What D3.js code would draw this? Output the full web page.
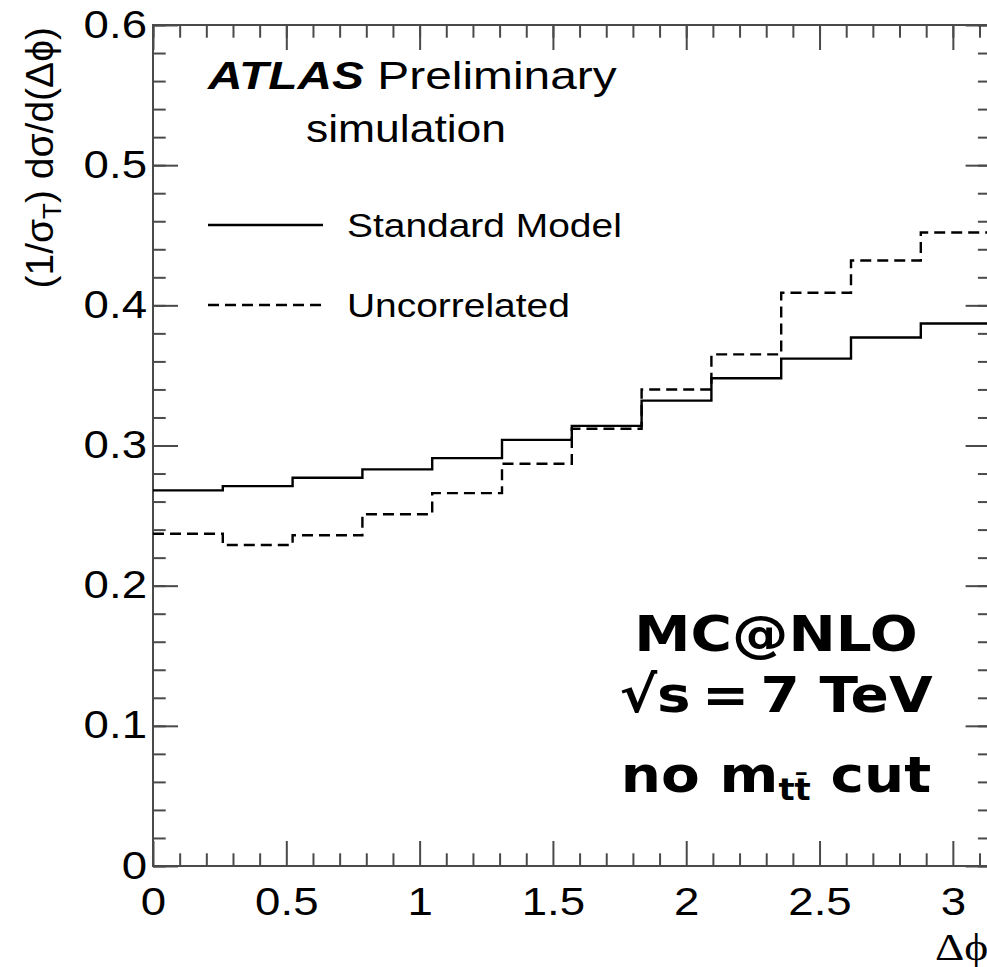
<!DOCTYPE html>
<html>
<head>
<meta charset="utf-8">
<script src="https://cdn.jsdelivr.net/npm/d3@7"></script>
<style>
  html, body { margin: 0; padding: 0; background: #fff; }
  svg { display: block; }
</style>
</head>
<body>
<svg id="chart" width="987" height="967"></svg>
<script>
// ---- data ----
const binCount = 12;                       // bins of width pi/12 over [0, pi]
const binEdges = d3.range(binCount + 1).map(k => k * Math.PI / binCount);
const standardModel = [0.268, 0.271, 0.277, 0.283, 0.291, 0.304, 0.314, 0.332, 0.348, 0.362, 0.377, 0.387];
const uncorrelated  = [0.237, 0.229, 0.236, 0.251, 0.266, 0.287, 0.312, 0.340, 0.365, 0.409, 0.432, 0.452];
const xMajorTicks = [0, 0.5, 1, 1.5, 2, 2.5, 3];
const xTickLabels = ["0", "0.5", "1", "1.5", "2", "2.5", "3"];
const xMinorTicks = d3.range(0, 32).map(i => i / 10);
const yMajorTicks = [0, 0.1, 0.2, 0.3, 0.4, 0.5, 0.6];
const yTickLabels = ["0", "0.1", "0.2", "0.3", "0.4", "0.5", "0.6"];
const yMinorTicks = d3.range(0, 31).map(i => i / 50);
const legendLabels = ["Standard Model", "Uncorrelated"];
const infoLines = ["MC@NLO", "\u221As\u2009=\u20097 TeV"];

// ---- layout ----
const L = 153, R = 990.6, T = 25, B = 866;
const x = d3.scaleLinear().domain([0, Math.PI]).range([L, R]);
const y = d3.scaleLinear().domain([0, 0.6]).range([B, T]);

const svg = d3.select("#chart");
const axisColor = "#4a4a4a";
const tickFont = "'Liberation Sans', Arial, Helvetica, sans-serif";
const SX = 1.2;   // horizontal stretch of the reference's text

function styleAxis(g) {
  g.select(".domain").remove();
  g.selectAll(".tick line").attr("stroke", axisColor).attr("stroke-width", 2);
  g.selectAll(".tick text").attr("fill", "#000").attr("font-family", tickFont).attr("font-size", 38);
}

// bottom axis
svg.append("g").attr("transform", `translate(0,${B})`)
  .call(d3.axisBottom(x).tickValues(xMinorTicks.filter(v => !xMajorTicks.some(m => Math.abs(m - v) < 1e-9))).tickSize(-12.7).tickFormat(""))
  .call(styleAxis);
svg.append("g").attr("transform", `translate(0,${B})`)
  .call(d3.axisBottom(x).tickValues(xMajorTicks).tickSize(-25).tickPadding(22).tickFormat((d, i) => xTickLabels[i]))
  .call(styleAxis)
  .call(g => g.selectAll(".tick text").attr("transform", `scale(${SX},1)`));
// top axis
svg.append("g").attr("transform", `translate(0,${T})`)
  .call(d3.axisTop(x).tickValues(xMinorTicks).tickSize(-12.7).tickFormat(""))
  .call(styleAxis);
svg.append("g").attr("transform", `translate(0,${T})`)
  .call(d3.axisTop(x).tickValues(xMajorTicks).tickSize(-25).tickFormat(""))
  .call(styleAxis);
// left axis
svg.append("g").attr("transform", `translate(${L},0)`)
  .call(d3.axisLeft(y).tickValues(yMinorTicks).tickSize(-12.7).tickFormat(""))
  .call(styleAxis);
svg.append("g").attr("transform", `translate(${L},0)`)
  .call(d3.axisLeft(y).tickValues(yMajorTicks).tickSize(-25).tickPadding(5).tickFormat((d, i) => yTickLabels[i]))
  .call(styleAxis)
  .call(g => g.selectAll(".tick text").attr("transform", `scale(${SX},1)`));
// right axis
svg.append("g").attr("transform", `translate(${R},0)`)
  .call(d3.axisRight(y).tickValues(yMinorTicks).tickSize(-12.7).tickFormat(""))
  .call(styleAxis);
svg.append("g").attr("transform", `translate(${R},0)`)
  .call(d3.axisRight(y).tickValues(yMajorTicks).tickSize(-25).tickFormat(""))
  .call(styleAxis);

// frame
svg.append("rect").attr("x", L).attr("y", T).attr("width", R - L).attr("height", B - T)
  .attr("fill", "none").attr("stroke", axisColor).attr("stroke-width", 2);

// ---- histograms ----
function histPath(vals) {
  const pts = [];
  vals.forEach((v, i) => {
    pts.push([x(binEdges[i]), y(v)]);
    pts.push([x(binEdges[i + 1]), y(v)]);
  });
  return d3.line()(pts);
}
svg.append("path").attr("d", histPath(standardModel))
  .attr("fill", "none").attr("stroke", "#000").attr("stroke-width", 2.4);
svg.append("path").attr("d", histPath(uncorrelated))
  .attr("fill", "none").attr("stroke", "#000").attr("stroke-width", 2.4)
  .attr("stroke-dasharray", "11,6");

// ---- axis titles ----
const yt = svg.append("text")
  .attr("transform", "translate(53,27) rotate(-90)")
  .attr("text-anchor", "end")
  .attr("font-family", tickFont).attr("font-size", 39).attr("fill", "#000");
yt.append("tspan").text("(1/\u03C3");
yt.append("tspan").attr("font-size", 26).attr("dy", 8).text("T");
yt.append("tspan").attr("dy", -8).text(") d\u03C3/d(\u0394\u03D5)");

svg.append("text").attr("transform", `translate(935,960) scale(${SX},1)`)
  .attr("font-family", "'Liberation Serif', 'Times New Roman', serif")
  .attr("font-size", 38).attr("fill", "#000").text("\u0394\u03D5");

// ---- ATLAS label ----
const at = svg.append("text").attr("transform", "translate(208,89) scale(1.26,1)")
  .attr("font-family", tickFont).attr("font-size", 38).attr("fill", "#000");
at.append("tspan").attr("font-weight", "bold").attr("font-style", "italic").text("ATLAS");
at.append("tspan").text(" Preliminary");
svg.append("text").attr("transform", "translate(406,142) scale(1.17,1)").attr("text-anchor", "middle")
  .attr("font-family", tickFont).attr("font-size", 38).attr("fill", "#000").text("simulation");

// ---- legend ----
const legendY = [225, 305];
const legendDash = [null, "11,6"];
legendLabels.forEach((lab, i) => {
  svg.append("line").attr("x1", 208).attr("x2", 323).attr("y1", legendY[i]).attr("y2", legendY[i])
    .attr("stroke", "#000").attr("stroke-width", 2.4)
    .attr("stroke-dasharray", legendDash[i]);
  svg.append("text").attr("transform", `translate(347,${legendY[i]}) scale(1.18,1)`).attr("dy", "0.36em")
    .attr("font-family", tickFont).attr("font-size", 33).attr("fill", "#000").text(lab);
});

// ---- info text ----
const bigFont = "'DejaVu Sans', Verdana, sans-serif";
const BX = 1.13;
const infoY = [651, 712];
infoLines.forEach((t, i) => {
  svg.append("text").attr("transform", `translate(776,${infoY[i]}) scale(${BX},1)`).attr("text-anchor", "middle")
    .attr("font-family", bigFont).attr("font-weight", "bold").attr("font-size", 50).attr("fill", "#000").text(t);
});
const nm = svg.append("text").attr("transform", `translate(776,792) scale(${BX},1)`).attr("text-anchor", "middle")
  .attr("font-family", bigFont).attr("font-weight", "bold").attr("font-size", 50).attr("fill", "#000");
nm.append("tspan").text("no m");
nm.append("tspan").attr("font-size", 30).attr("dy", 8).text("t\u0074\u0304");
nm.append("tspan").attr("dy", -8).text(" cut");
</script>
</body>
</html>
